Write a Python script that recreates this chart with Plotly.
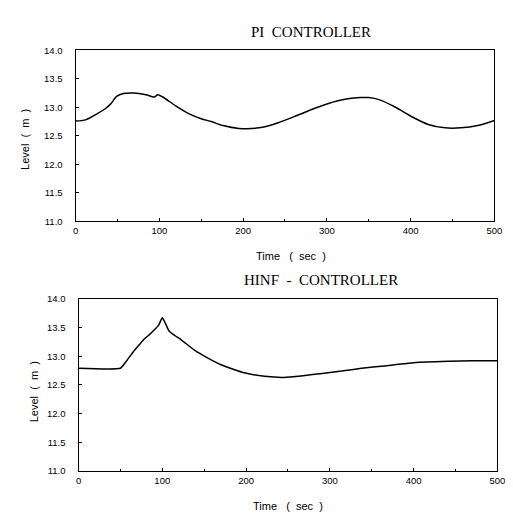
import plotly.graph_objects as go

# PI controller response
time_pi = [0, 12, 26, 35, 42, 49, 57, 69, 84, 94, 98, 104, 119, 135, 150, 162, 176,
           195, 219, 242, 265, 289, 312, 325, 340, 350, 363, 382, 402, 421, 441, 460, 480, 500]
level_pi = [12.76, 12.78, 12.89, 12.97, 13.06, 13.19, 13.24, 13.25, 13.22, 13.18, 13.22, 13.18,
            13.03, 12.89, 12.80, 12.75, 12.68, 12.63, 12.64, 12.73, 12.86, 13.00, 13.11, 13.15,
            13.17, 13.17, 13.13, 13.00, 12.83, 12.70, 12.64, 12.64, 12.68, 12.77]

# HINF controller response
time_hinf = [0, 50, 58, 65, 72, 78.5, 85, 90, 96, 100, 103.5, 108, 115, 123, 138, 154, 170,
             198, 222, 245, 268, 291, 314, 338, 365, 403, 442, 470, 500]
level_hinf = [12.79, 12.79, 12.93, 13.07, 13.19, 13.30, 13.38, 13.45, 13.55, 13.67, 13.58, 13.44,
              13.36, 13.28, 13.11, 12.97, 12.85, 12.71, 12.65, 12.63, 12.66, 12.70, 12.74, 12.79,
              12.83, 12.89, 12.91, 12.92, 12.92]

x_ticks = [0, 100, 200, 300, 400, 500]
y_ticks = [11.0, 11.5, 12.0, 12.5, 13.0, 13.5, 14.0]

titles = ["PI\u00a0\u00a0CONTROLLER", "HINF\u00a0\u00a0-\u00a0\u00a0CONTROLLER"]
x_title = "Time\u00a0\u00a0\u00a0(\u00a0\u00a0sec\u00a0\u00a0)"
y_title = "Level\u00a0\u00a0(\u00a0\u00a0m\u00a0\u00a0)"

W, H = 513, 514

fig = go.Figure()
fig.add_trace(go.Scatter(x=time_pi, y=level_pi, mode="lines", xaxis="x", yaxis="y",
                         line=dict(color="black", width=1.5, shape="spline", smoothing=0.7),
                         showlegend=False))
fig.add_trace(go.Scatter(x=time_hinf, y=level_hinf, mode="lines", xaxis="x2", yaxis="y2",
                         line=dict(color="black", width=1.5, shape="spline", smoothing=0.4),
                         showlegend=False))

tickfont = dict(family="Liberation Sans, Arial, sans-serif", size=9.5, color="black")

def xaxis(domain, anchor):
    return dict(domain=domain, anchor=anchor, range=[0, 500], tickvals=x_ticks,
                showline=True, mirror=True, linecolor="black", linewidth=1.2,
                ticks="inside", ticklen=3, tickcolor="black", showgrid=False, zeroline=False,
                tickfont=tickfont, minor=dict(dtick=50, ticks="inside", ticklen=2, tickcolor="black"))

def yaxis(domain, anchor):
    return dict(domain=domain, anchor=anchor, range=[11, 14], tickvals=y_ticks, tickformat=".1f",
                showline=True, mirror=True, linecolor="black", linewidth=1.2,
                ticks="inside", ticklen=3, tickcolor="black", showgrid=False, zeroline=False,
                tickfont=tickfont, ticklabelstandoff=10)

fig.update_layout(
    width=W, height=H,
    margin=dict(l=0, r=0, t=0, b=0),
    paper_bgcolor="white", plot_bgcolor="white",
    xaxis=xaxis([66 / W, 494 / W], "y"),
    yaxis=yaxis([1 - 212 / H, 1 - 37 / H], "x"),
    xaxis2=xaxis([69 / W, 497 / W], "y2"),
    yaxis2=yaxis([1 - 467 / H, 1 - 291 / H], "x2"),
)

serif = dict(family="Liberation Serif, Times New Roman, serif", size=15, color="black")
sans = dict(family="Liberation Sans, Arial, sans-serif", size=11, color="black")

ann = [
    dict(text=titles[0], x=307 / W, y=1 - 18 / H, font=serif),
    dict(text=titles[1], x=317 / W, y=1 - 272 / H, font=serif),
    dict(text=x_title, x=286 / W, y=1 - 247 / H, font=sans),
    dict(text=x_title, x=283 / W, y=1 - 503 / H, font=sans),
    dict(text=y_title, x=15 / W, y=1 - 128 / H, font=sans, textangle=-90),
    dict(text=y_title, x=23 / W, y=1 - 386 / H, font=sans, textangle=-90),
]
for a in ann:
    fig.add_annotation(xref="paper", yref="paper", showarrow=False,
                       xanchor="center", yanchor="middle", **a)

fig.write_html("out.html")
